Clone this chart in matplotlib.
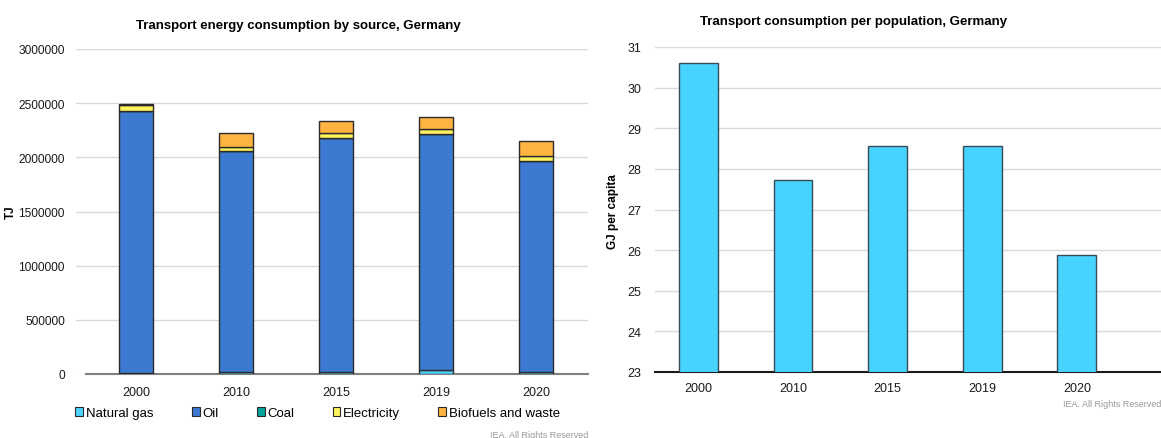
"""Transport energy consumption, Germany (IEA style two-panel chart)."""

import matplotlib
matplotlib.use("Agg")
import matplotlib.pyplot as plt
from matplotlib.patches import Patch
import numpy as np

plt.rcParams["font.family"] = ["Liberation Sans", "DejaVu Sans"]

YEARS = ["2000", "2010", "2015", "2019", "2020"]

# TJ by source
NATURAL_GAS = [5000, 20000, 15000, 35000, 20000]
OIL = [2420000, 2038000, 2165000, 2180000, 1949000]
COAL = [0, 0, 0, 0, 0]
ELECTRICITY = [57000, 42000, 45000, 43000, 43000]
BIOFUELS = [8000, 125000, 107000, 114000, 138000]

# GJ per capita
PER_CAPITA = [30.61, 27.72, 28.56, 28.56, 25.88]

SOURCES = ["Natural gas", "Oil", "Coal", "Electricity", "Biofuels and waste"]
COLORS = ["#4dd2ff", "#3c7ad2", "#00a398", "#fff35c", "#ffb340"]
GRID = "#d9d9d9"
EDGE = "#2b2b2b"

W, H = 1161, 439
fig = plt.figure(figsize=(W / 100, H / 100), dpi=100)

# left panel
ax1 = fig.add_axes([76 / W, 1 - 375 / H, (588 - 76) / W, (375 - 50) / H])
x = np.arange(len(YEARS))
bottom = np.zeros(len(YEARS))
for name, vals, color in zip(SOURCES, [NATURAL_GAS, OIL, COAL, ELECTRICITY, BIOFUELS], COLORS):
    ax1.bar(x, vals, 0.34, bottom=bottom, color=color, edgecolor=EDGE, linewidth=1.0, zorder=3)
    bottom += np.array(vals)
ax1.set_xlim(-0.6, 4.52)
ax1.set_ylim(0, 3000000)
ax1.set_yticks(np.arange(0, 3000001, 500000))
ax1.set_yticklabels([str(v) for v in range(0, 3000001, 500000)])
ax1.set_xticks(x)
ax1.set_xticklabels(YEARS)
ax1.grid(axis="y", color=GRID, linewidth=1.0, zorder=0)
for s in ["top", "right", "left"]:
    ax1.spines[s].set_visible(False)
ax1.spines["bottom"].set_color("#808080")
ax1.spines["bottom"].set_linewidth(1.5)
ax1.spines["bottom"].set_bounds(-0.5, 4.52)
ax1.tick_params(axis="both", length=0, labelsize=9, pad=9, colors="#1a1a1a")
ax1.tick_params(axis="y", labelsize=8.6, pad=8)
ax1.set_title("Transport energy consumption by source, Germany", fontsize=9.5,
              fontweight="bold", pad=15, x=0.435)
ax1.text(11 / W, 1 - 212 / H, "TJ", transform=fig.transFigure, rotation=90, fontsize=8.5,
         fontweight="bold", ha="center", va="center")
handles = [Patch(facecolor=c, edgecolor=EDGE, linewidth=0.8) for c in COLORS]
ax1.legend(handles, SOURCES, loc="center", bbox_to_anchor=(0.472, -0.12), ncol=5,
           frameon=False, fontsize=9.5, handlelength=0.6, handleheight=0.6,
           handletextpad=0.2, columnspacing=2.9)
fig.text(588 / W, 1 - 436 / H, "IEA. All Rights Reserved", fontsize=6.5, color="#999999",
         ha="right", va="center")

# right panel
ax2 = fig.add_axes([655 / W, 1 - 373 / H, (W - 655) / W, (373 - 48) / H])
ax2.bar(x, PER_CAPITA, 0.41, color="#47d3ff", edgecolor="#3a4a55", linewidth=1.0, zorder=3)
ax2.set_xlim(-0.46, 4.89)
ax2.set_ylim(23, 31)
ax2.set_yticks(range(23, 32))
ax2.set_xticks(x)
ax2.set_xticklabels(YEARS)
ax2.grid(axis="y", color=GRID, linewidth=1.0, zorder=0)
for s in ["top", "right", "left"]:
    ax2.spines[s].set_visible(False)
ax2.spines["bottom"].set_color("#1a1a1a")
ax2.spines["bottom"].set_linewidth(1.5)
ax2.tick_params(axis="both", length=0, labelsize=9, pad=7, colors="#1a1a1a")
ax2.tick_params(axis="y", pad=10)
ax2.set_title("Transport consumption per population, Germany", fontsize=9.5,
              fontweight="bold", pad=16.5, x=0.393)
ax2.text(613 / W, 1 - 212 / H, "GJ per capita", transform=fig.transFigure, rotation=90,
         fontsize=8.5, fontweight="bold", ha="center", va="center")
fig.text(1161 / W, 1 - 405 / H, "IEA. All Rights Reserved", fontsize=6.5, color="#999999",
         ha="right", va="center")

fig.savefig("out.png", dpi=100)
